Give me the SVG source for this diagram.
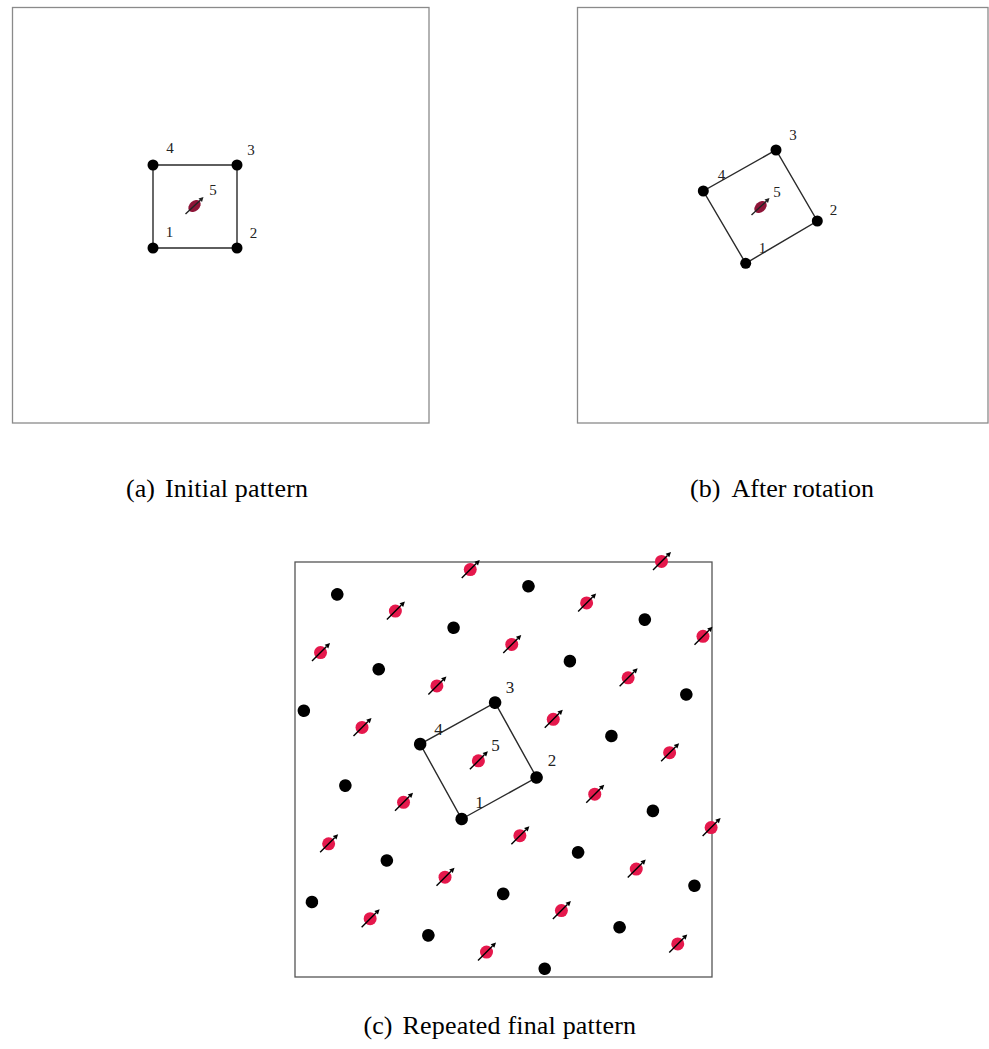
<svg xmlns="http://www.w3.org/2000/svg" xmlns:xlink="http://www.w3.org/1999/xlink" width="989" height="1049" viewBox="0 0 989 1049">
<style>
.frame{fill:none;stroke:#8a8a8a;stroke-width:1.3}
.frameC{fill:none;stroke:#555;stroke-width:1.3}
.edge{stroke:#2a2a2a;stroke-width:1.4;fill:none}
.dot{fill:#000}
.lbl{font-family:"Liberation Serif","DejaVu Serif",serif;font-size:15px;fill:#222;text-anchor:middle}
.lblC{font-family:"Liberation Serif","DejaVu Serif",serif;font-size:17px;fill:#222;text-anchor:middle}
.cap{font-family:"Liberation Serif","Times New Roman",serif;font-size:26px;fill:#000}
</style>
<defs>
<g id="spin">
<circle r="6.5" fill="#e5184c"/>
<line x1="-8.5" y1="8.5" x2="6" y2="-6" stroke="#000" stroke-width="1.4"/>
<polygon points="9.5,-9.5 7.8,-4.2 4.2,-7.8" fill="#000"/>
</g>
<g id="spinA">
<ellipse rx="7" ry="5" transform="rotate(-42)" fill="#8e1538"/>
<line x1="-9" y1="8" x2="6" y2="-6" stroke="#222" stroke-width="1.4"/>
<polygon points="9,-9 7.5,-4 4,-7.5" fill="#222"/>
</g>
</defs>

<!-- Panel (a) -->
<g id="panel-a">
<rect class="frame" x="12.5" y="7.5" width="416.5" height="415.5"/>
<g id="a-edges">
<polygon class="edge" points="153,248 237,248 237,165 153,165"/>
</g>
<g id="a-n1"><circle class="dot" cx="153" cy="248" r="5.5"/><text class="lbl" x="169.5" y="237">1</text></g>
<g id="a-n2"><circle class="dot" cx="237" cy="248" r="5.5"/><text class="lbl" x="253.5" y="238">2</text></g>
<g id="a-n3"><circle class="dot" cx="237" cy="165" r="5.5"/><text class="lbl" x="251" y="155">3</text></g>
<g id="a-n4"><circle class="dot" cx="153" cy="165" r="5.5"/><text class="lbl" x="170" y="153">4</text></g>
<g id="a-n5"><use href="#spinA" transform="translate(194.5,206)"/><text class="lbl" x="213" y="195">5</text></g>
</g>

<!-- Panel (b) -->
<g id="panel-b">
<rect class="frame" x="577.5" y="7.5" width="410.5" height="415.5"/>
<g id="b-edges">
<polygon class="edge" points="745.7,263.3 817.3,221 776,150 703.3,191"/>
</g>
<g id="b-n1"><circle class="dot" cx="745.7" cy="263.3" r="5.5"/><text class="lbl" x="762.5" y="253">1</text></g>
<g id="b-n2"><circle class="dot" cx="817.3" cy="221" r="5.5"/><text class="lbl" x="833.5" y="215">2</text></g>
<g id="b-n3"><circle class="dot" cx="776" cy="150" r="5.5"/><text class="lbl" x="793" y="140">3</text></g>
<g id="b-n4"><circle class="dot" cx="703.3" cy="191" r="5.5"/><text class="lbl" x="721.5" y="180">4</text></g>
<g id="b-n5"><use href="#spinA" transform="translate(760.5,207)"/><text class="lbl" x="777" y="197">5</text></g>
</g>

<!-- Panel (c) -->
<g id="panel-c">
<rect class="frameC" x="295" y="562" width="417" height="415"/>
<g id="c-edges">
<polygon class="edge" points="461.7,819 536.57,777.5 495.07,702.63 420.2,744.13"/>
</g>
<g id="c-lattice" transform="translate(461.7,819) rotate(-29)">
<g id="c-black">
<circle class="dot" cx="0" cy="-256.8" r="6.3"/>
<circle class="dot" cx="171.2" cy="-171.2" r="6.3"/>
<circle class="dot" cx="85.6" cy="-171.2" r="6.3"/>
<circle class="dot" cx="256.8" cy="-85.6" r="6.3"/>
<circle class="dot" cx="0" cy="-171.2" r="6.3"/>
<circle class="dot" cx="171.2" cy="-85.6" r="6.3"/>
<circle class="dot" cx="-85.6" cy="-171.2" r="6.3"/>
<circle class="dot" cx="256.8" cy="0" r="6.3"/>
<circle id="c-n3" class="dot" cx="85.6" cy="-85.6" r="6.3"/>
<circle class="dot" cx="171.2" cy="0" r="6.3"/>
<circle id="c-n4" class="dot" cx="0" cy="-85.6" r="6.3"/>
<circle class="dot" cx="-85.6" cy="-85.6" r="6.3"/>
<circle id="c-n2" class="dot" cx="85.6" cy="0" r="6.3"/>
<circle class="dot" cx="171.2" cy="85.6" r="6.3"/>
<circle id="c-n1" class="dot" cx="0" cy="0" r="6.3"/>
<circle class="dot" cx="85.6" cy="85.6" r="6.3"/>
<circle class="dot" cx="-85.6" cy="0" r="6.3"/>
<circle class="dot" cx="171.2" cy="171.2" r="6.3"/>
<circle class="dot" cx="-171.2" cy="0" r="6.3"/>
<circle class="dot" cx="0" cy="85.6" r="6.3"/>
<circle class="dot" cx="85.6" cy="171.2" r="6.3"/>
<circle class="dot" cx="-85.6" cy="85.6" r="6.3"/>
<circle class="dot" cx="0" cy="171.2" r="6.3"/>
</g>
<g id="c-spins">
<use href="#spin" transform="translate(128.4,-214) rotate(29)"/>
<use href="#spin" transform="translate(299.6,-128.4) rotate(29)"/>
<use href="#spin" transform="translate(42.8,-214) rotate(29)"/>
<use href="#spin" transform="translate(214,-128.4) rotate(29)"/>
<use href="#spin" transform="translate(-42.8,-214) rotate(29)"/>
<use href="#spin" transform="translate(128.4,-128.4) rotate(29)"/>
<use href="#spin" transform="translate(299.6,-42.8) rotate(29)"/>
<use href="#spin" transform="translate(42.8,-128.4) rotate(29)"/>
<use href="#spin" transform="translate(214,-42.8) rotate(29)"/>
<use href="#spin" transform="translate(-42.8,-128.4) rotate(29)"/>
<use href="#spin" transform="translate(128.4,-42.8) rotate(29)"/>
<use id="c-n5" href="#spin" transform="translate(42.8,-42.8) rotate(29)"/>
<use href="#spin" transform="translate(214,42.8) rotate(29)"/>
<use href="#spin" transform="translate(-42.8,-42.8) rotate(29)"/>
<use href="#spin" transform="translate(128.4,42.8) rotate(29)"/>
<use href="#spin" transform="translate(-128.4,-42.8) rotate(29)"/>
<use href="#spin" transform="translate(42.8,42.8) rotate(29)"/>
<use href="#spin" transform="translate(214,128.4) rotate(29)"/>
<use href="#spin" transform="translate(-42.8,42.8) rotate(29)"/>
<use href="#spin" transform="translate(128.4,128.4) rotate(29)"/>
<use href="#spin" transform="translate(-128.4,42.8) rotate(29)"/>
<use href="#spin" transform="translate(42.8,128.4) rotate(29)"/>
<use href="#spin" transform="translate(-42.8,128.4) rotate(29)"/>
<use href="#spin" transform="translate(128.4,214) rotate(29)"/>
</g>
</g>
<g id="c-labels">
<text class="lblC" x="479.5" y="808">1</text>
<text class="lblC" x="552" y="766">2</text>
<text class="lblC" x="510" y="693">3</text>
<text class="lblC" x="438.5" y="735">4</text>
<text class="lblC" x="495.5" y="750.5">5</text>
</g>
</g>

<!-- Captions -->
<g id="captions">
<text class="cap" x="126" y="497">(a)</text>
<text class="cap" x="165" y="497" textLength="143">Initial pattern</text>
<text class="cap" x="690" y="497">(b)</text>
<text class="cap" x="731.5" y="497" textLength="142.5">After rotation</text>
<text class="cap" x="363.5" y="1034">(c)</text>
<text class="cap" x="402.5" y="1034" textLength="233.5">Repeated final pattern</text>
</g>
</svg>
